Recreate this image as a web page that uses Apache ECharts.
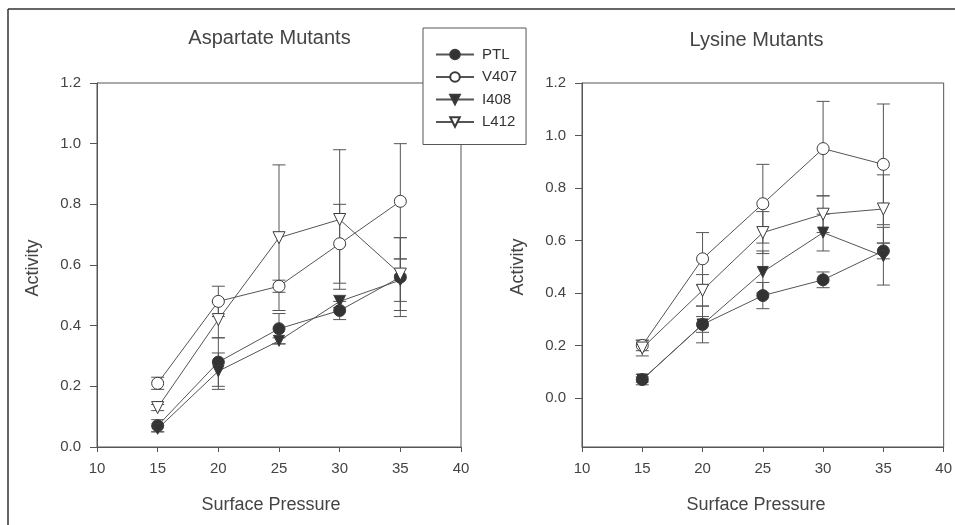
<!DOCTYPE html>
<html>
<head>
<meta charset="utf-8">
<script src="https://cdn.jsdelivr.net/npm/echarts@6/dist/echarts.min.js"></script>
<style>
html,body{margin:0;padding:0;background:#fff}
#main{width:955px;height:525px}
</style>
</head>
<body>
<div id="main"></div>
<script>
// x values (surface pressure)
const pressure=[15,20,25,30,35]
const seriesNames=['PTL','V407','I408','L412']

// Aspartate Mutants (left)
const aspPTL=[0.07,0.28,0.39,0.45,0.56]
const aspPTLErr=[0.02,0.08,0.05,0.03,0.13]
const aspV407=[0.21,0.48,0.53,0.67,0.81]
const aspV407Err=[0.02,0.05,0.02,0.13,0.19]
const aspI408=[0.06,0.25,0.35,0.48,0.55]
const aspI408Err=[0.01,0.06,0.01,0.02,0.07]
const aspL412=[0.13,0.42,0.69,0.75,0.57]
const aspL412Err=[0.01,0.06,0.24,0.23,0.12]

// Lysine Mutants (right)
const lysPTL=[0.07,0.28,0.39,0.45,0.56]
const lysPTLErr=[0.02,0.03,0.05,0.03,0.03]
const lysV407=[0.20,0.53,0.74,0.95,0.89]
const lysV407Err=[0.02,0.10,0.15,0.18,0.23]
const lysI408=[0.07,0.28,0.48,0.63,0.54]
const lysI408Err=[0.01,0.07,0.08,0.07,0.11]
const lysL412=[0.19,0.41,0.63,0.70,0.72]
const lysL412Err=[0.03,0.06,0.08,0.07,0.13]

const yTicks=[0,0.2,0.4,0.6,0.8,1.0,1.2]

const FONT='"Liberation Sans", Arial, sans-serif'
const LINE='#555'
const TEXT='#444'

// marker look for each mutant
const markers={
  PTL:{symbol:'circle',symbolSize:12,rotate:0,fill:'#333'},
  V407:{symbol:'circle',symbolSize:12,rotate:0,fill:'#fff'},
  I408:{symbol:'triangle',symbolSize:11,rotate:180,fill:'#333'},
  L412:{symbol:'triangle',symbolSize:12,rotate:180,fill:'#fff'}
}

function lineSeries(name,idx,vals){
  const m=markers[name]
  return {
    name:name,
    type:'line',
    xAxisIndex:idx,
    yAxisIndex:idx,
    data:pressure.map((x,i)=>[x,vals[i]]),
    symbol:m.symbol,
    symbolSize:m.symbolSize,
    symbolRotate:m.rotate,
    showAllSymbol:true,
    lineStyle:{color:LINE,width:1},
    itemStyle:{color:m.fill,borderColor:'#3a3a3a',borderWidth:1,opacity:1},
    z:3
  }
}

function errSeries(idx,vals,errs){
  return {
    type:'custom',
    xAxisIndex:idx,
    yAxisIndex:idx,
    silent:true,
    z:2,
    data:pressure.map((x,i)=>[x,vals[i]-errs[i],vals[i]+errs[i]]),
    renderItem:function(params,api){
      const lo=api.coord([api.value(0),api.value(1)])
      const hi=api.coord([api.value(0),api.value(2)])
      const w=6.5
      const st={stroke:LINE,lineWidth:1}
      return {type:'group',children:[
        {type:'line',shape:{x1:lo[0],y1:lo[1],x2:hi[0],y2:hi[1]},style:st},
        {type:'line',shape:{x1:lo[0]-w,y1:lo[1],x2:lo[0]+w,y2:lo[1]},style:st},
        {type:'line',shape:{x1:hi[0]-w,y1:hi[1],x2:hi[0]+w,y2:hi[1]},style:st}
      ]}
    }
  }
}

function xAxisCfg(idx){
  return {
    type:'value',gridIndex:idx,min:10,max:40,interval:5,
    axisLine:{show:true,onZero:false,lineStyle:{color:LINE,width:1}},
    axisTick:{show:true,length:5,lineStyle:{color:LINE}},
    axisLabel:{fontSize:15,color:TEXT,margin:14,fontFamily:FONT},
    splitLine:{show:false}
  }
}

const myChart=echarts.init(document.getElementById('main'))
const option={
  animation:false,
  backgroundColor:'#fff',
  textStyle:{fontFamily:FONT},
  grid:[
    {left:97,top:83,width:364,height:364,show:true,borderColor:LINE,borderWidth:1,backgroundColor:'transparent'},
    {left:582,top:83,width:363,height:364,show:true,borderColor:LINE,borderWidth:1,backgroundColor:'transparent'}
  ],
  xAxis:[xAxisCfg(0),xAxisCfg(1)],
  yAxis:[
    {
      type:'value',gridIndex:0,min:0,max:1.2,interval:0.2,
      axisLine:{show:true,onZero:false,lineStyle:{color:LINE,width:1}},
      axisTick:{show:true,length:7,lineStyle:{color:LINE}},
      axisLabel:{fontSize:15,color:TEXT,margin:16,fontFamily:FONT,formatter:v=>v.toFixed(1)},
      splitLine:{show:false}
    },
    {
      type:'value',gridIndex:1,min:-0.187,max:1.2,
      axisLine:{show:true,onZero:false,lineStyle:{color:LINE,width:1}},
      axisTick:{show:true,length:7,lineStyle:{color:LINE},customValues:yTicks},
      axisLabel:{fontSize:15,color:TEXT,margin:16,fontFamily:FONT,customValues:yTicks,formatter:v=>v.toFixed(1)},
      splitLine:{show:false}
    }
  ],
  legend:{
    data:seriesNames,
    orient:'vertical',
    left:423,
    top:28,
    padding:[19,9,15,12],
    itemGap:7.5,
    itemWidth:38,
    itemHeight:12,
    backgroundColor:'#fff',
    borderColor:LINE,
    borderWidth:1,
    borderRadius:0,
    textStyle:{fontSize:15,color:'#333',fontFamily:FONT,padding:[0,0,0,3]},
    z:10
  },
  graphic:[
    {type:'line',shape:{x1:8,y1:9,x2:955,y2:9},style:{stroke:'#333',lineWidth:1.5}},
    {type:'line',shape:{x1:8,y1:9,x2:8,y2:525},style:{stroke:'#333',lineWidth:1.5}},
    {type:'text',x:269.5,y:38.5,style:{text:'Aspartate Mutants',fontSize:20,fill:TEXT,align:'center',verticalAlign:'middle',fontFamily:FONT}},
    {type:'text',x:756.5,y:40,style:{text:'Lysine Mutants',fontSize:20,fill:TEXT,align:'center',verticalAlign:'middle',fontFamily:FONT}},
    {type:'text',x:271,y:505,style:{text:'Surface Pressure',fontSize:18,fill:TEXT,align:'center',verticalAlign:'middle',fontFamily:FONT}},
    {type:'text',x:756,y:505,style:{text:'Surface Pressure',fontSize:18,fill:TEXT,align:'center',verticalAlign:'middle',fontFamily:FONT}},
    {type:'text',x:33,y:268,rotation:Math.PI/2,style:{text:'Activity',fontSize:18,fill:TEXT,align:'center',verticalAlign:'middle',fontFamily:FONT}},
    {type:'text',x:518,y:267,rotation:Math.PI/2,style:{text:'Activity',fontSize:18,fill:TEXT,align:'center',verticalAlign:'middle',fontFamily:FONT}}
  ],
  series:[
    errSeries(0,aspPTL,aspPTLErr),
    errSeries(0,aspV407,aspV407Err),
    errSeries(0,aspI408,aspI408Err),
    errSeries(0,aspL412,aspL412Err),
    lineSeries('PTL',0,aspPTL),
    lineSeries('V407',0,aspV407),
    lineSeries('I408',0,aspI408),
    lineSeries('L412',0,aspL412),
    errSeries(1,lysPTL,lysPTLErr),
    errSeries(1,lysV407,lysV407Err),
    errSeries(1,lysI408,lysI408Err),
    errSeries(1,lysL412,lysL412Err),
    lineSeries('PTL',1,lysPTL),
    lineSeries('V407',1,lysV407),
    lineSeries('I408',1,lysI408),
    lineSeries('L412',1,lysL412)
  ]
}
myChart.setOption(option)
</script>
</body>
</html>
